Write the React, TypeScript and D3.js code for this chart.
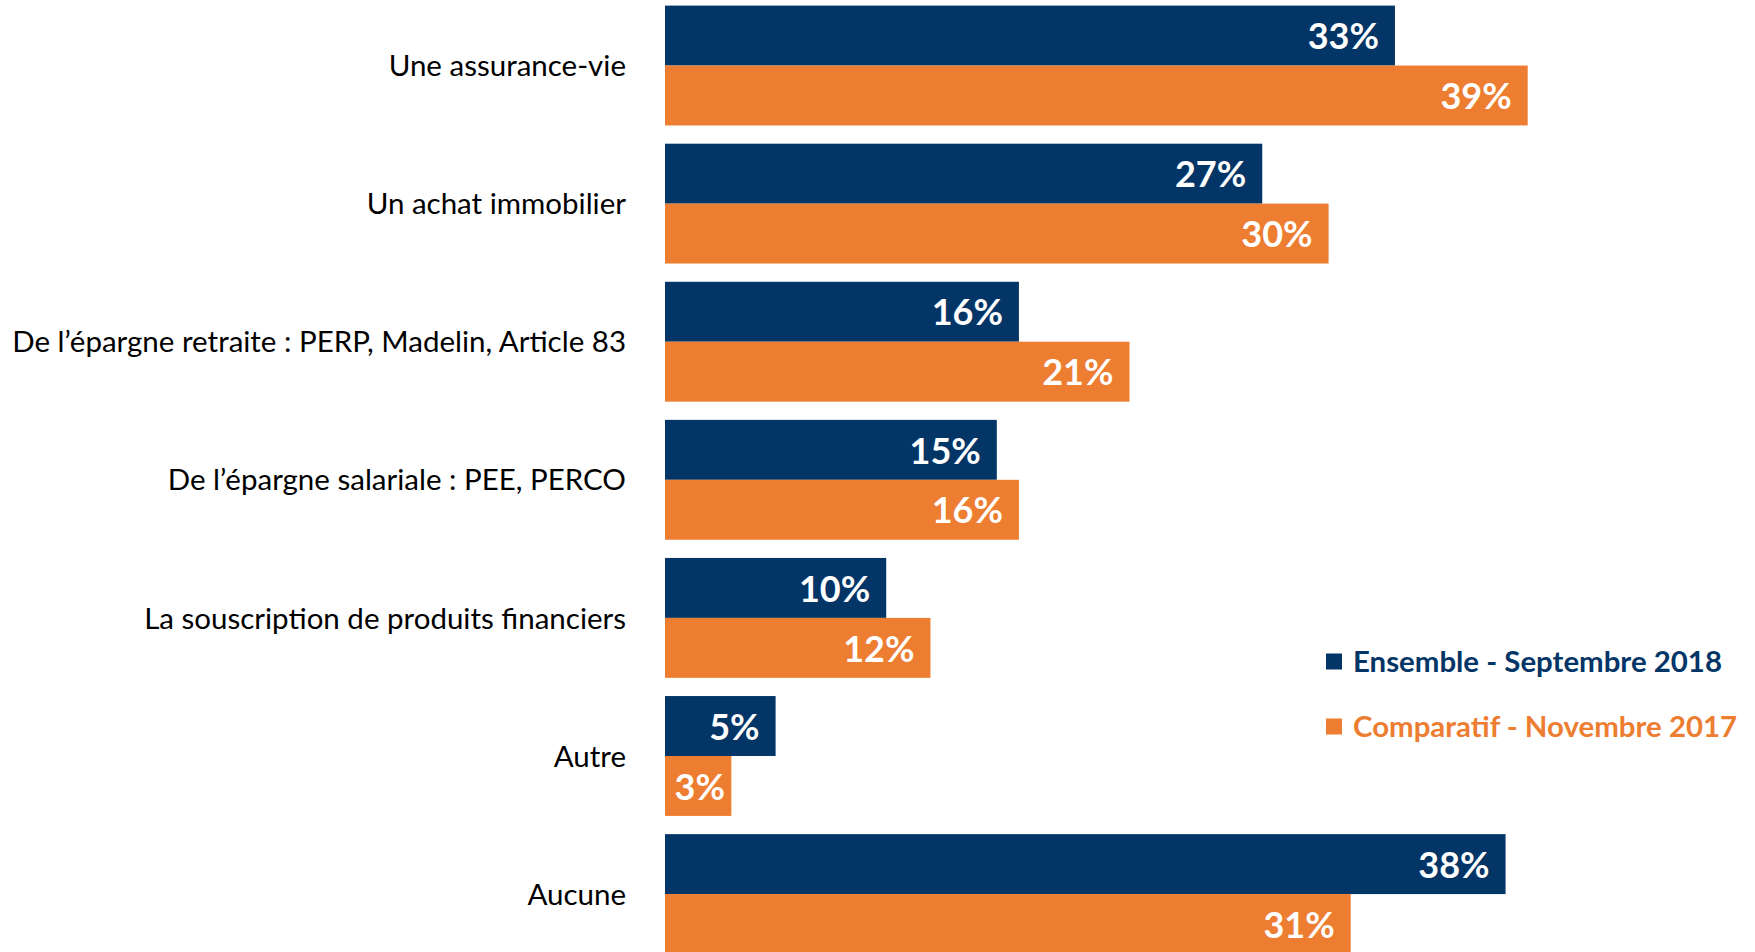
import * as d3 from 'd3';

// valeurs (en %)
const categories = [
  'Une assurance-vie',
  'Un achat immobilier',
  'De l\u2019épargne retraite : PERP, Madelin, Article 83',
  'De l\u2019épargne salariale : PEE, PERCO',
  'La souscription de produits financiers',
  'Autre',
  'Aucune',
];
const ensemble2018 = [33, 27, 16, 15, 10, 5, 38];
const comparatif2017 = [39, 30, 21, 16, 12, 3, 31];
const seriesNames = ['Ensemble - Septembre 2018', 'Comparatif - Novembre 2017'];
const seriesColors = ['#033567', '#ed7d31'];

const W = 1755;
const H = 952;
const FONT = 'Lato, "Open Sans", sans-serif';

export default function App() {
  const series = [ensemble2018, comparatif2017];

  // Echelles
  const y = d3.scaleBand<string>()
    .domain(categories)
    .range([5.6, 954])
    .paddingInner(0.132)
    .paddingOuter(0);

  const ySub = d3.scaleBand<number>()
    .domain([0, 1])
    .range([0, y.bandwidth()]);

  const x = d3.scaleLinear()
    .domain([0, 40])
    .range([665, 665 + 884.8]);

  return (
    <svg
      width={W}
      height={H}
      style={{ position: 'absolute', left: 0, top: 0, display: 'block', background: '#fff' }}
      fontFamily={FONT}
    >
      {/* libellés des catégories */}
      {categories.map(c => (
        <text
          key={c}
          x={626}
          y={(y(c) ?? 0) + y.bandwidth() / 2}
          dy="0.36em"
          textAnchor="end"
          fontSize={29.5}
          fill="#000"
        >
          {c}
        </text>
      ))}

      {/* barres */}
      {series.map((vals, si) => (
        <g key={si}>
          {categories.map((c, i) => {
            const top = (y(c) ?? 0) + (ySub(si) ?? 0);
            // étiquette à l'intérieur, décalée si la barre est trop courte
            const labelX = Math.max(x(vals[i]) - 16, x(0) + 60);
            return (
              <g key={c}>
                <rect
                  x={x(0)}
                  y={top}
                  width={x(vals[i]) - x(0)}
                  height={ySub.bandwidth()}
                  fill={seriesColors[si]}
                />
                <text
                  x={labelX}
                  y={top + ySub.bandwidth() / 2}
                  dy="0.38em"
                  textAnchor="end"
                  fontSize={36}
                  fontWeight="bold"
                  fill="#fff"
                >
                  {vals[i]}%
                </text>
              </g>
            );
          })}
        </g>
      ))}

      {/* légende */}
      {seriesNames.map((name, si) => {
        const cy = 661.5 + si * 65;
        return (
          <g key={name}>
            <rect x={1326} y={cy - 8} width={16} height={16} fill={seriesColors[si]} />
            <text x={1353} y={cy} dy="0.36em" fontSize={29.4} fontWeight="bold" fill={seriesColors[si]}>
              {name}
            </text>
          </g>
        );
      })}
    </svg>
  );
}
